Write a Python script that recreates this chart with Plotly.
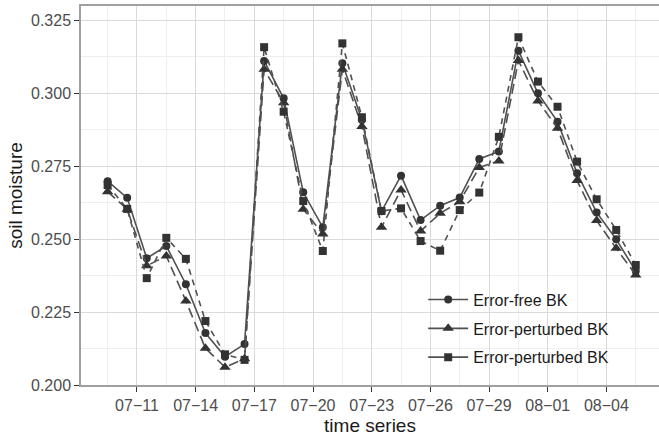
import plotly.graph_objects as go

dates = [
    "2019-07-09 12:00", "2019-07-10 12:00", "2019-07-11 12:00", "2019-07-12 12:00",
    "2019-07-13 12:00", "2019-07-14 12:00", "2019-07-15 12:00", "2019-07-16 12:00",
    "2019-07-17 12:00", "2019-07-18 12:00", "2019-07-19 12:00", "2019-07-20 12:00",
    "2019-07-21 12:00", "2019-07-22 12:00", "2019-07-23 12:00", "2019-07-24 12:00",
    "2019-07-25 12:00", "2019-07-26 12:00", "2019-07-27 12:00", "2019-07-28 12:00",
    "2019-07-29 12:00", "2019-07-30 12:00", "2019-07-31 12:00", "2019-08-01 12:00",
    "2019-08-02 12:00", "2019-08-03 12:00", "2019-08-04 12:00", "2019-08-05 12:00",
]

error_free = [
    0.2698, 0.2641, 0.2434, 0.2476, 0.2345, 0.2178, 0.2097, 0.2140,
    0.3110, 0.2982, 0.2660, 0.2540, 0.3102, 0.2908, 0.2595, 0.2717,
    0.2565, 0.2614, 0.2642, 0.2774, 0.2800, 0.3145, 0.2999, 0.2902,
    0.2725, 0.2591, 0.2499, 0.2390,
]

perturbed_tri = [
    0.2662, 0.2602, 0.2408, 0.2442, 0.2288, 0.2126, 0.2061, 0.2090,
    0.3081, 0.2967, 0.2602, 0.2517, 0.3081, 0.2885, 0.2540, 0.2668,
    0.2527, 0.2588, 0.2628, 0.2745, 0.2767, 0.3111, 0.2973, 0.2879,
    0.2700, 0.2563, 0.2468, 0.2377,
]

perturbed_sq = [
    0.2685, 0.2603, 0.2366, 0.2504, 0.2432, 0.2219, 0.2105, 0.2086,
    0.3157, 0.2936, 0.2630, 0.2459, 0.3170, 0.2917, 0.2596, 0.2605,
    0.2493, 0.2460, 0.2599, 0.2659, 0.2850, 0.3191, 0.3039, 0.2953,
    0.2765, 0.2636, 0.2531, 0.2411,
]

series_names = ["Error-free BK", "Error-perturbed BK", "Error-perturbed BK"]
series_values = [error_free, perturbed_tri, perturbed_sq]
symbols = ["circle", "triangle-up", "square"]
marker_sizes = [8, 10, 8]
dashes = ["solid", "10px,5px", "6px,5px"]

line_col = "#505050"
mark_col = "#333333"

fig = go.Figure()
for i, (name, vals) in enumerate(zip(series_names, series_values)):
    fig.add_trace(go.Scatter(
        x=dates, y=vals, name=name, mode="lines+markers",
        line=dict(color=line_col, width=1.6, dash=dashes[i]),
        marker=dict(symbol=symbols[i], size=marker_sizes[i], color=mark_col),
        showlegend=False,
    ))
# legend keys (solid lines, as in the reference legend)
for i, name in enumerate(series_names):
    fig.add_trace(go.Scatter(
        x=[None], y=[None], name=name, mode="lines+markers",
        line=dict(color=line_col, width=1.6, dash="solid"),
        marker=dict(symbol=symbols[i], size=marker_sizes[i], color=mark_col),
        legendgroup="g%d" % i, showlegend=True,
    ))

tick_font = dict(family="Liberation Sans, Arial, sans-serif", size=16, color="#4d4d4d")
title_font = dict(family="Liberation Sans, Arial, sans-serif", size=19, color="#1a1a1a")

fig.update_layout(
    width=659, height=437,
    margin=dict(l=81, r=0, t=6, b=52),
    paper_bgcolor="white", plot_bgcolor="white",
    showlegend=True,
    legend=dict(
        x=0.592, y=0.27, xanchor="left", yanchor="top",
        bgcolor="rgba(0,0,0,0)", borderwidth=0,
        font=dict(family="Liberation Sans, Arial, sans-serif", size=16, color="#1a1a1a"),
        itemwidth=40, tracegroupgap=5, traceorder="grouped",
    ),
    xaxis=dict(
        type="date",
        range=["2019-07-08 03:20", "2019-08-06 16:30"],
        tick0="2019-07-11", dtick=3 * 86400000, tickformat="%m\u2212%d",
        tickfont=tick_font, ticks="outside", ticklen=5, tickcolor="#333333", tickwidth=1,
        showgrid=True, gridcolor="#dadada", gridwidth=1,
        minor=dict(tick0="2019-07-09 12:00", dtick=3 * 86400000, showgrid=True,
                   gridcolor="#efefef", gridwidth=0.8, ticks=""),
        showline=True, linecolor="#a0a0a0", linewidth=1.5, mirror=True,
        title=dict(text="time series", font=title_font, standoff=6),
        zeroline=False,
    ),
    yaxis=dict(
        range=[0.200, 0.3298],
        tick0=0.2, dtick=0.025, tickformat=".3f",
        tickfont=tick_font, ticks="outside", ticklen=5, tickcolor="#333333", tickwidth=1,
        showgrid=True, gridcolor="#dadada", gridwidth=1,
        minor=dict(tick0=0.2125, dtick=0.025, showgrid=True,
                   gridcolor="#efefef", gridwidth=0.8, ticks=""),
        showline=True, linecolor="#a0a0a0", linewidth=1.5, mirror=False,
        title=dict(text="soil moisture", font=title_font, standoff=3),
        zeroline=False,
    ),
)

fig.write_html("out.html", config={"displayModeBar": False},
               post_script="document.body.style.margin='0px';")
